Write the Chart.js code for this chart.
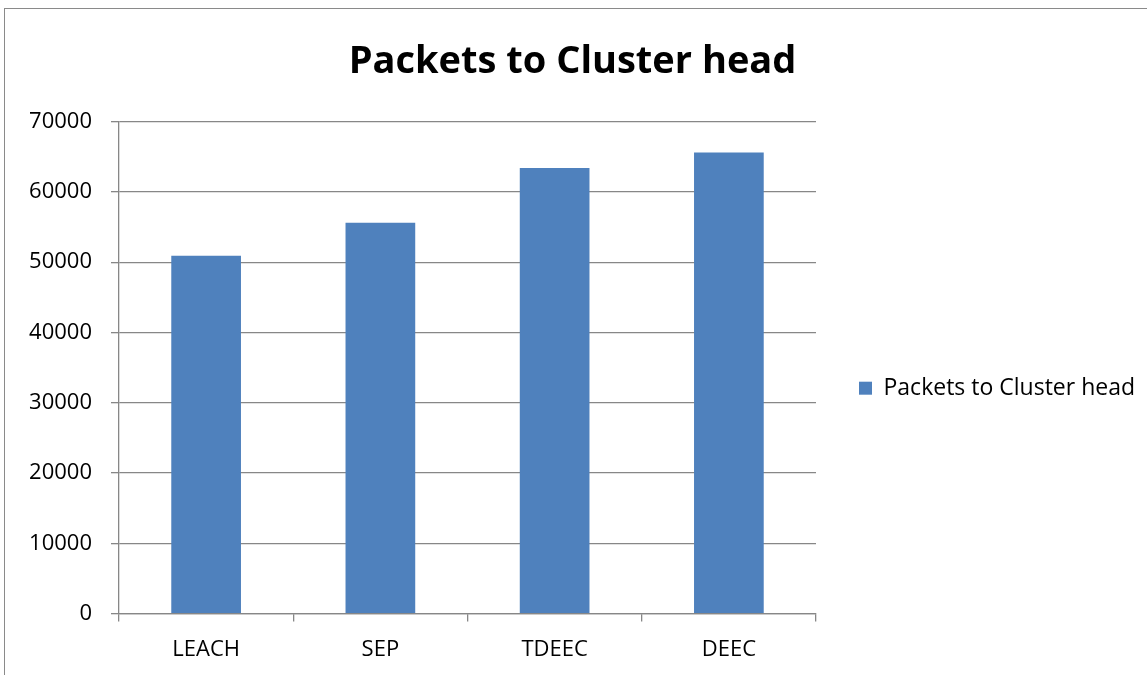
<!DOCTYPE html>
<html lang="en">
<head>
    <meta charset="UTF-8">
    <title>Packets to Cluster head</title>
    <script src="https://cdn.jsdelivr.net/npm/chart.js"></script>
    <style>
        html, body {
            margin: 0;
            padding: 0;
            background: #fff;
            overflow: hidden;
        }
        .frame {
            position: absolute;
            left: 4px;
            top: 8px;
            width: 1200px;
            height: 720px;
            border: 1.5px solid #8a8a8a;
        }
        .chart-box {
            position: absolute;
            left: 0;
            top: 0;
            width: 1147px;
            height: 675px;
        }
    </style>
</head>
<body>
    <div class="frame"></div>
    <div class="chart-box">
        <canvas id="chart"></canvas>
    </div>

    <script>
        const protocols = ['LEACH', 'SEP', 'TDEEC', 'DEEC'];
        const packetsToCH = [50900, 55600, 63400, 65600];
        const seriesName = 'Packets to Cluster head';

        const gridGray = '#878787';
        const fontFamily = "'Open Sans', sans-serif";

        const ctx = document.getElementById('chart').getContext('2d');
        const chart = new Chart(ctx, {
            type: 'bar',
            data: {
                labels: protocols,
                datasets: [{
                    label: seriesName,
                    data: packetsToCH,
                    backgroundColor: '#4F81BD',
                    borderWidth: 0,
                    categoryPercentage: 1.0,
                    barPercentage: 0.4
                }]
            },
            options: {
                responsive: true,
                maintainAspectRatio: false,
                animation: false,
                layout: {
                    padding: { left: 0, right: 2, top: 0, bottom: -3 }
                },
                plugins: {
                    title: {
                        display: true,
                        text: seriesName,
                        color: '#000',
                        font: { family: fontFamily, size: 38, weight: 'bold' },
                        padding: { top: 39, bottom: 37 }
                    },
                    legend: {
                        position: 'right',
                        maxWidth: 340,
                        // empty title just pushes the entry down a bit
                        title: {
                            display: true,
                            text: '',
                            font: { size: 12 },
                            padding: { top: 0, bottom: 84 }
                        },
                        labels: {
                            color: '#000',
                            font: { family: fontFamily, size: 23 },
                            boxWidth: 13,
                            boxHeight: 13,
                            padding: 43
                        }
                    },
                    tooltip: { enabled: false }
                },
                scales: {
                    x: {
                        grid: {
                            display: true,
                            drawOnChartArea: false,
                            drawTicks: true,
                            tickLength: 8,
                            color: gridGray,
                            lineWidth: 1.3
                        },
                        border: { color: gridGray, width: 1.3 },
                        ticks: {
                            color: '#000',
                            font: { family: fontFamily, size: 22 },
                            padding: 15
                        }
                    },
                    y: {
                        min: 0,
                        max: 70000,
                        afterFit: (scale) => { scale.width = 119; },
                        grid: {
                            color: gridGray,
                            lineWidth: 1.3,
                            tickLength: 8
                        },
                        border: { color: gridGray, width: 1.3 },
                        ticks: {
                            stepSize: 10000,
                            color: '#000',
                            font: { family: fontFamily, size: 22 },
                            padding: 19,
                            callback: (v) => String(v)
                        }
                    }
                }
            }
        });
    </script>
</body>
</html>
